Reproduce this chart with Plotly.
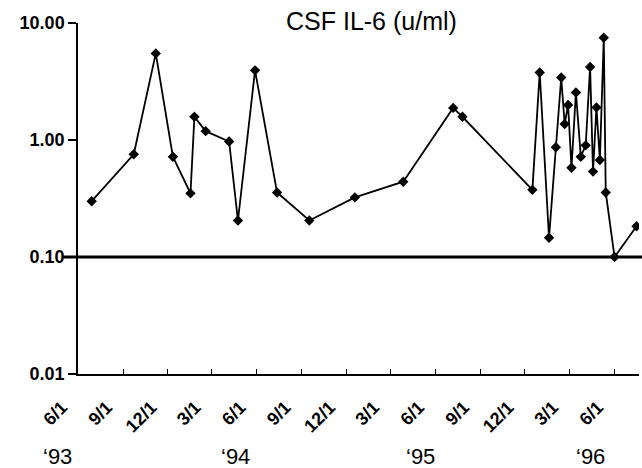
import math
import plotly.graph_objects as go

# ---- data ----
dates = [
    "1993-06-29", "1993-09-23", "1993-11-07", "1993-12-12", "1994-01-17",
    "1994-01-25", "1994-02-17", "1994-04-06", "1994-04-24", "1994-05-29",
    "1994-07-13", "1994-09-17", "1994-12-19", "1995-03-28", "1995-07-08",
    "1995-07-27", "1995-12-17", "1996-01-01", "1996-01-20", "1996-02-03",
    "1996-02-14", "1996-02-21", "1996-02-28", "1996-03-06", "1996-03-15",
    "1996-03-25", "1996-04-04", "1996-04-13", "1996-04-19", "1996-04-26",
    "1996-05-03", "1996-05-11", "1996-05-15", "1996-06-02", "1996-07-17",
]
il6 = [
    0.30, 0.755, 5.5, 0.72, 0.35,
    1.58, 1.19, 0.97, 0.205, 3.94,
    0.356, 0.205, 0.323, 0.44, 1.88,
    1.58, 0.375, 3.77, 0.146, 0.867,
    3.42, 1.37, 1.99, 0.58, 2.55,
    0.72, 0.90, 4.21, 0.537, 1.90,
    0.675, 7.48, 0.356, 0.10, 0.183,
]
threshold = 0.10

x_tickvals = ["1993-06-01", "1993-09-01", "1993-12-01", "1994-03-01", "1994-06-01",
              "1994-09-01", "1994-12-01", "1995-03-01", "1995-06-01", "1995-09-01",
              "1995-12-01", "1996-03-01", "1996-06-01"]
x_ticktext = ["6/1", "9/1", "12/1", "3/1", "6/1", "9/1", "12/1", "3/1", "6/1",
              "9/1", "12/1", "3/1", "6/1"]
y_tickvals = [0.01, 0.1, 1, 10]
y_ticktext = ["0.01", "0.10", "1.00", "10.00"]
year_labels = ["\u201893", "\u201894", "\u201895", "\u201896"]
year_pos = [-0.037, 0.280, 0.610, 0.914]

x_range = ["1993-06-01", "1996-07-22"]
y_range = [-2, 1]

FONT = "Liberation Sans"

fig = go.Figure()
fig.add_trace(go.Scatter(
    x=dates, y=il6, mode="lines+markers",
    line=dict(color="black", width=1.8),
    marker=dict(symbol="diamond", size=8, color="black"),
    showlegend=False,
))

# 0.10 reference line (thick, running a bit past the plot)
ythr = (math.log10(threshold) - y_range[0]) / (y_range[1] - y_range[0])
fig.add_shape(type="line", xref="paper", yref="paper",
              x0=-0.027, x1=1.01, y0=ythr, y1=ythr,
              line=dict(color="black", width=3))

fig.add_annotation(text="CSF IL-6 (u/ml)", xref="paper", yref="paper",
                   x=0.524, y=1.005, xanchor="center", yanchor="middle",
                   showarrow=False, font=dict(family=FONT, size=25, color="black"))

for lab, px in zip(year_labels, year_pos):
    fig.add_annotation(text=lab, xref="paper", yref="paper", x=px, y=-0.234,
                       xanchor="center", yanchor="middle", showarrow=False,
                       font=dict(family=FONT, size=22, color="black"))

fig.update_layout(
    width=642, height=468,
    margin=dict(l=78, r=3, t=23, b=94),
    plot_bgcolor="white", paper_bgcolor="white",
    font=dict(family=FONT, color="black"),
)
fig.update_xaxes(
    type="date", range=x_range,
    tickvals=x_tickvals, ticktext=x_ticktext, tickangle=-45,
    tickfont=dict(family=FONT, size=18, weight="bold", color="black"),
    ticklabelstandoff=14, ticklabelshift=-16,
    showgrid=False, zeroline=False,
    showline=True, linecolor="black", linewidth=1.5,
    ticks="inside", ticklen=5, tickcolor="black", tickwidth=1,
)
fig.update_yaxes(
    type="log", range=y_range,
    tickvals=y_tickvals, ticktext=y_ticktext,
    tickfont=dict(family=FONT, size=18, weight="bold", color="black"),
    showgrid=False, zeroline=False,
    showline=True, linecolor="black", linewidth=1.5,
    ticks="outside", ticklen=8, tickcolor="black", tickwidth=1.5,
)

fig.write_html("out.html")
